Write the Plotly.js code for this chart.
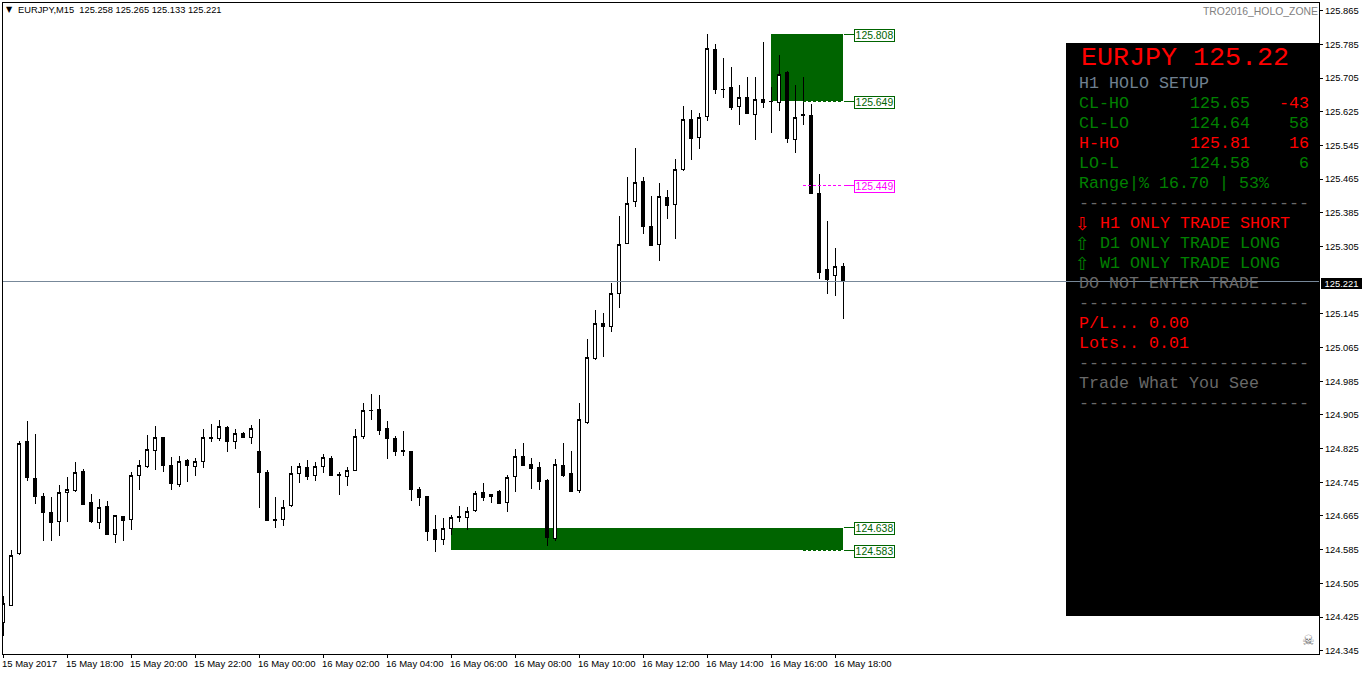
<!DOCTYPE html>
<html>
<head>
<meta charset="utf-8">
<script src="https://cdn.plot.ly/plotly-3.0.1.min.js"></script>
<style>html,body{margin:0;padding:0;background:#fff;overflow:hidden}
.cartesianlayer path,.shapelayer path,.layer-above path,.layer-below path,.ticks path,path.xtick,path.ytick{shape-rendering:crispEdges !important}
</style>
</head>
<body>
<div id="chart" style="width:1362px;height:675px"></div>
<script>
// ---- Data (EURJPY M15) ----
const opens = [
124.411,124.452,124.575,124.841,124.754,124.712,124.674,124.652,124.720,124.725,
124.771,124.697,124.649,124.688,124.620,124.664,124.657,124.761,124.782,124.820,
124.852,124.786,124.739,124.796,124.782,124.795,124.852,124.849,124.874,124.842,
124.861,124.852,124.817,124.769,124.657,124.657,124.689,124.765,124.781,124.761,
124.782,124.802,124.764,124.758,124.772,124.853,124.916,124.917,124.872,124.850,
124.821,124.819,124.727,124.711,124.634,124.609,124.635,124.664,124.661,124.678,
124.720,124.711,124.724,124.696,124.758,124.807,124.788,124.779,124.750,124.612,
124.784,124.767,124.725,124.888,125.040,125.123,125.115,125.194,125.313,125.412,
125.460,125.353,125.310,125.422,125.405,125.487,125.607,125.564,125.614,125.774,
125.678,125.683,125.637,125.659,125.619,125.655,125.650,125.647,125.719,125.560,
125.619,125.617,125.431,125.251,125.236,125.258];
const highs = [
124.475,124.584,124.843,124.891,124.860,124.719,124.710,124.738,124.758,124.793,
124.776,124.717,124.705,124.701,124.667,124.665,124.769,124.798,124.857,124.879,
124.853,124.804,124.807,124.800,124.802,124.871,124.883,124.893,124.878,124.871,
124.864,124.881,124.895,124.774,124.710,124.703,124.784,124.790,124.798,124.793,
124.812,124.807,124.769,124.781,124.871,124.933,124.955,124.952,124.891,124.855,
124.867,124.820,124.734,124.712,124.667,124.660,124.667,124.689,124.686,124.724,
124.743,124.717,124.726,124.762,124.824,124.838,124.803,124.793,124.753,124.800,
124.838,124.820,124.933,125.085,125.154,125.147,125.218,125.377,125.469,125.539,
125.469,125.425,125.457,125.439,125.512,125.639,125.629,125.621,125.810,125.786,
125.753,125.731,125.689,125.708,125.708,125.791,125.684,125.760,125.721,125.689,
125.708,125.643,125.477,125.366,125.301,125.265];
const lows = [
124.380,124.451,124.573,124.749,124.693,124.606,124.606,124.617,124.651,124.722,
124.692,124.649,124.634,124.620,124.601,124.606,124.632,124.727,124.780,124.774,
124.769,124.727,124.735,124.746,124.760,124.779,124.841,124.843,124.818,124.825,
124.850,124.836,124.684,124.653,124.637,124.642,124.686,124.744,124.750,124.749,
124.768,124.761,124.715,124.736,124.771,124.848,124.893,124.857,124.800,124.807,
124.807,124.701,124.689,124.606,124.579,124.596,124.620,124.651,124.632,124.674,
124.701,124.696,124.693,124.674,124.722,124.784,124.729,124.727,124.594,124.606,
124.758,124.723,124.720,124.883,125.035,125.043,125.102,125.159,125.312,125.399,
125.335,125.306,125.271,125.370,125.323,125.485,125.510,125.537,125.603,125.667,
125.658,125.629,125.594,125.619,125.558,125.634,125.575,125.627,125.552,125.527,
125.594,125.429,125.229,125.192,125.187,125.133];
const closes = [
124.456,124.572,124.836,124.756,124.711,124.673,124.649,124.721,124.728,124.769,
124.693,124.651,124.686,124.622,124.665,124.654,124.762,124.785,124.823,124.852,
124.784,124.742,124.795,124.784,124.795,124.852,124.849,124.878,124.841,124.861,
124.851,124.873,124.768,124.654,124.654,124.686,124.766,124.783,124.758,124.783,
124.804,124.762,124.761,124.773,124.854,124.916,124.915,124.869,124.848,124.819,
124.818,124.727,124.710,124.629,124.608,124.636,124.662,124.661,124.676,124.719,
124.710,124.716,124.695,124.757,124.807,124.786,124.777,124.748,124.613,124.788,
124.760,124.724,124.895,125.042,125.123,125.114,125.194,125.310,125.408,125.457,
125.352,125.307,125.424,125.402,125.488,125.607,125.561,125.612,125.776,125.677,
125.677,125.635,125.659,125.620,125.655,125.646,125.649,125.713,125.561,125.612,
125.616,125.430,125.243,125.226,125.258,125.221];

const timeTickBars = [0,8,16,24,32,40,48,56,64,72,80,88,96,104];
const timeTickLabels = ["15 May 2017","15 May 18:00","15 May 20:00","15 May 22:00","16 May 00:00","16 May 02:00","16 May 04:00","16 May 06:00","16 May 08:00","16 May 10:00","16 May 12:00","16 May 14:00","16 May 16:00","16 May 18:00"];
const priceTicks = [125.865,125.785,125.705,125.625,125.545,125.465,125.385,125.305,125.145,125.065,124.985,124.905,124.825,124.745,124.665,124.585,124.505,124.425,124.345];
const priceTickLabels = priceTicks.map(v => v.toFixed(3));

const lastPrice = 125.221;
const zoneLevels = [125.808,125.649,124.638,124.583];
const midLevel = 125.449;
const upperZoneStartBar = 96, lowerZoneStartBar = 56, zoneEndBar = 105, levelStartBar = 100;

const headerText = "EURJPY,M15  125.258 125.265 125.133 125.221";
const indicatorName = "TRO2016_HOLO_ZONE";
const panelTitle = "EURJPY 125.22";
const GREEN = "#008000", RED = "#ff0000", SLATE = "#708090", GREY = "#696969";
const DASHES = "-----------------------";
const panelRows = [
 ["H1 HOLO SETUP", SLATE],
 ["CL-HO", GREEN, "125.65", "-43", RED],
 ["CL-LO", GREEN, "124.64", "58"],
 ["H-HO", RED, "125.81", "16"],
 ["LO-L", GREEN, "124.58", "6"],
 ["Range|% 16.70 | 53%", GREEN],
 [DASHES, GREY],
 ["H1 ONLY TRADE SHORT", RED, null, null, null, "\u21e9"],
 ["D1 ONLY TRADE LONG", GREEN, null, null, null, "\u21e7"],
 ["W1 ONLY TRADE LONG", GREEN, null, null, null, "\u21e7"],
 ["DO NOT ENTER TRADE", GREY],
 [DASHES, GREY],
 ["P/L... 0.00", RED],
 ["Lots.. 0.01", RED],
 [DASHES, GREY],
 ["Trade What You See", GREY],
 [DASHES, GREY]
];

// ---- Helpers: pixel position -> paper fraction for the decorations ----
const L = 3, R = 1319, T = 3, B = 654;
const px = x => (x - L) / (R - L);
const py = y => 1 - (y - T) / (B - T);
const SMALL = "'Liberation Sans',Arial,sans-serif";
const MONO = "'Liberation Mono','Courier New',monospace";

function note(x, y, text, opt) {
  opt = opt || {};
  return Object.assign({
    xref: "paper", yref: "paper", x: px(x), y: py(y), text: text,
    showarrow: false, xanchor: opt.anchor || "left", yanchor: "middle",
    borderpad: 0, borderwidth: 0,
    font: {family: opt.family || MONO, size: opt.size || 16.67, color: opt.color || "#000"}
  }, opt.extra || {});
}

const annotations = [];
annotations.push(note(6, 10, "\u25bc", {family: "'DejaVu Sans'", size: 8, color: "#000"}));
annotations.push(note(18, 10, headerText.replace(/  /g, "&nbsp;&nbsp;"), {family: SMALL, size: 9.3, color: "#000"}));
annotations.push(note(1318, 11, indicatorName, {family: SMALL, size: 10.4, color: "#808080", anchor: "right"}));
annotations.push(note(1081, 58, panelTitle, {size: 26.67, color: RED}));

panelRows.forEach((row, i) => {
  const y = 83.4 + 20 * i;
  const col = row[1];
  const startX = row[5] ? 1099.5 : 1079;
  annotations.push(note(startX, y, row[0], {color: col}));
  if (row[2]) annotations.push(note(1190, y, row[2], {color: col}));
  if (row[3]) annotations.push(note(1309, y, row[3], {color: row[4] || col, anchor: "right"}));
  if (row[5]) annotations.push(note(1075, y, row[5], {color: col, family: "'DejaVu Sans'", size: 18}));
});

// Current price tag on the axis
annotations.push(note(1321, 283, lastPrice.toFixed(3), {family: SMALL, size: 9.4, color: "#fff",
  extra: {bgcolor: "#000", width: 41, height: 11, align: "center"}}));
// Skull icon bottom-right
annotations.push(note(1308, 640, "\u2620", {family: "'DejaVu Sans'", size: 14, color: "#696969", anchor: "center"}));

// Boxed level labels
const LABEL_BAR = 106.43;
function levelLabel(v, c) {
  return {xref: "x", yref: "y", x: LABEL_BAR, y: v, yshift: -1, text: v.toFixed(3), showarrow: false,
    xanchor: "left", yanchor: "middle", borderpad: 0, borderwidth: 1, bordercolor: c, bgcolor: "#fff",
    width: 39, height: 11, align: "center",
    font: {family: SMALL, size: 10.4, color: c}};
}
zoneLevels.forEach(v => annotations.push(levelLabel(v, "#006400")));
annotations.push(levelLabel(midLevel, "#ff00ff"));

const shapes = [];
// zones, below the candles; small nudges keep the dashed level line just outside the fill
const zoneEdgeGap = 0.0015;
shapes.push({type: "rect", layer: "below", xref: "x", yref: "y", x0: upperZoneStartBar, x1: zoneEndBar, y0: zoneLevels[1] + zoneEdgeGap, y1: zoneLevels[0] + zoneEdgeGap, fillcolor: "#006400", line: {width: 0}});
shapes.push({type: "rect", layer: "below", xref: "x", yref: "y", x0: lowerZoneStartBar, x1: zoneEndBar, y0: zoneLevels[3] + zoneEdgeGap, y1: zoneLevels[2] - zoneEdgeGap, fillcolor: "#006400", line: {width: 0}});
// level lines
function levelLine(v, c, dashedFrom) {
  shapes.push({type: "line", layer: "above", xref: "x", yref: "y", x0: dashedFrom, x1: zoneEndBar, y0: v, y1: v, line: {color: c, width: 1, dash: "3px,2px"}});
  shapes.push({type: "line", layer: "above", xref: "x", yref: "y", x0: zoneEndBar + 0.15, x1: LABEL_BAR, y0: v, y1: v, line: {color: c, width: 1}});
}
levelLine(zoneLevels[1], "#006400", levelStartBar);
levelLine(zoneLevels[3], "#006400", levelStartBar);
shapes.push({type: "line", layer: "above", xref: "x", yref: "y", x0: zoneEndBar + 0.15, x1: LABEL_BAR, y0: zoneLevels[0], y1: zoneLevels[0], line: {color: "#006400", width: 1}});
shapes.push({type: "line", layer: "above", xref: "x", yref: "y", x0: zoneEndBar + 0.15, x1: LABEL_BAR, y0: zoneLevels[2], y1: zoneLevels[2], line: {color: "#006400", width: 1}});
levelLine(midLevel, "#ff00ff", levelStartBar);
// info panel and current price line
shapes.push({type: "rect", layer: "above", xref: "paper", yref: "paper", x0: px(1066), x1: 1, y0: py(616), y1: py(43), fillcolor: "#000", line: {width: 0}});
shapes.push({type: "line", layer: "above", xref: "paper", yref: "y", x0: 0, x1: 1, y0: lastPrice, y1: lastPrice, line: {color: "#778899", width: 1}});

const trace = {
  type: "candlestick",
  x: opens.map((_, i) => i),
  open: opens, high: highs, low: lows, close: closes,
  whiskerwidth: 0,
  increasing: {line: {color: "#000", width: 1}, fillcolor: "#fff"},
  decreasing: {line: {color: "#000", width: 1}, fillcolor: "#000"},
  hoverinfo: "skip"
};

const layout = {
  width: 1362, height: 675, autosize: false,
  margin: {l: L, r: 1362 - R, t: T, b: 675 - B, pad: 0},
  paper_bgcolor: "#fff", plot_bgcolor: "#fff",
  showlegend: false, dragmode: false, boxgap: 0.5,
  font: {family: SMALL, size: 9.4, color: "#000"},
  xaxis: {
    range: [0, 164.5], autorange: false, rangeslider: {visible: false},
    tickmode: "array", tickvals: timeTickBars, ticktext: timeTickLabels, tickangle: 0,
    ticks: "outside", ticklen: 3, tickwidth: 1, tickcolor: "#000",
    ticklabelposition: "outside right", ticklabelshift: -2, ticklabelstandoff: 1,
    tickfont: {family: SMALL, size: 9.5, color: "#000"},
    showgrid: false, zeroline: false, showline: true, mirror: true, linecolor: "#000", linewidth: 1
  },
  yaxis: {
    side: "right", range: [124.3372, 125.8833], autorange: false,
    tickmode: "array", tickvals: priceTicks, ticktext: priceTickLabels,
    ticks: "outside", ticklen: 3, tickwidth: 1, tickcolor: "#000",
    tickfont: {family: SMALL, size: 9.4, color: "#000"},
    showgrid: false, zeroline: false, showline: true, mirror: true, linecolor: "#000", linewidth: 1
  },
  shapes: shapes,
  annotations: annotations
};

Plotly.newPlot("chart", [trace], layout, {staticPlot: true, displayModeBar: false});
</script>
</body>
</html>
